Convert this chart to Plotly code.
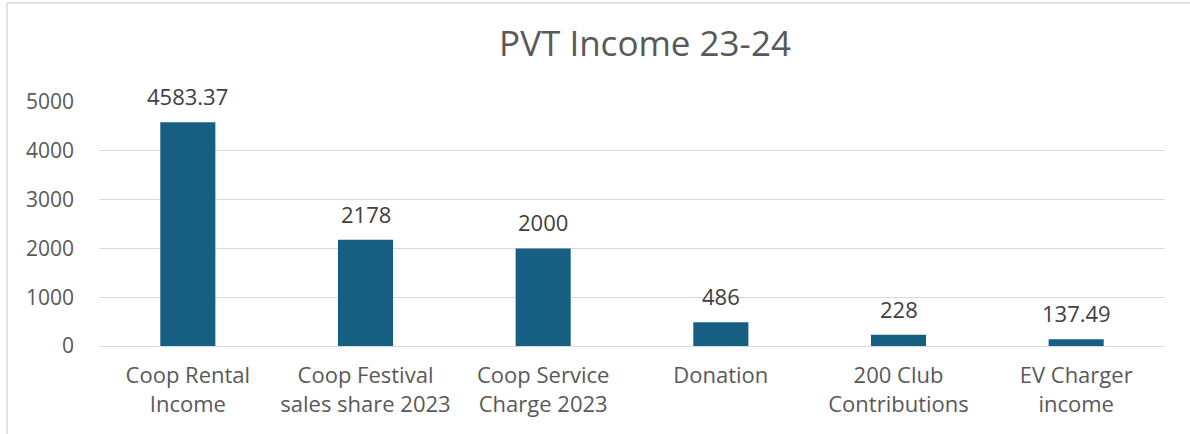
import plotly.graph_objects as go

categories = ["Coop Rental<br>Income", "Coop Festival<br>sales share 2023", "Coop Service<br>Charge 2023",
              "Donation", "200 Club<br>Contributions", "EV Charger<br>income"]
values = [4583.37, 2178, 2000, 486, 228, 137.49]
value_labels = ["4583.37", "2178", "2000", "486", "228", "137.49"]
y_ticks = [0, 1000, 2000, 3000, 4000, 5000]

FONT = "Open Sans"
GREY = "#595959"

fig = go.Figure()
fig.add_trace(go.Bar(x=categories, y=values, marker_color="#175F82", width=0.31,
                     marker_line_width=0, hoverinfo="x+y"))

for c, v, t in zip(categories, values, value_labels):
    fig.add_annotation(x=c, y=v, text=t, showarrow=False, yanchor="bottom", yshift=9,
                       font=dict(family=FONT, size=22, color="#404040"))

fig.update_layout(
    width=1190, height=434,
    margin=dict(l=99, r=25, t=102, b=88),
    paper_bgcolor="white", plot_bgcolor="white",
    showlegend=False,
    bargap=0.69,
    title=dict(text="PVT Income 23-24", x=645/1190, xanchor="center", y=1-44/434, yanchor="middle",
               xref="container", yref="container",
               font=dict(family=FONT, size=35, color=GREY)),
    font=dict(family=FONT, size=21, color=GREY),
)
fig.update_yaxes(range=[0, 5000], tickvals=y_ticks, showgrid=True, gridcolor="#D9D9D9", gridwidth=1,
                 zeroline=True, zerolinecolor="#D9D9D9", zerolinewidth=1, showline=False,
                 ticks="", ticklabelstandoff=24, automargin=False,
                 tickfont=dict(family=FONT, size=21, color=GREY))
fig.update_xaxes(showline=False, ticks="", automargin=False,
                 tickfont=dict(family=FONT, size=22, color=GREY),
                 ticklabelstandoff=14)

fig.add_shape(type="rect", xref="paper", yref="paper",
              x0=-92/1066, x1=1.2, y0=-0.5, y1=1 + 99/244,
              line=dict(color="#D9D9D9", width=1.5), fillcolor="rgba(0,0,0,0)", layer="below")

fig.write_html("out.html", config={"displayModeBar": False},
               post_script="document.body.style.margin='0';")
